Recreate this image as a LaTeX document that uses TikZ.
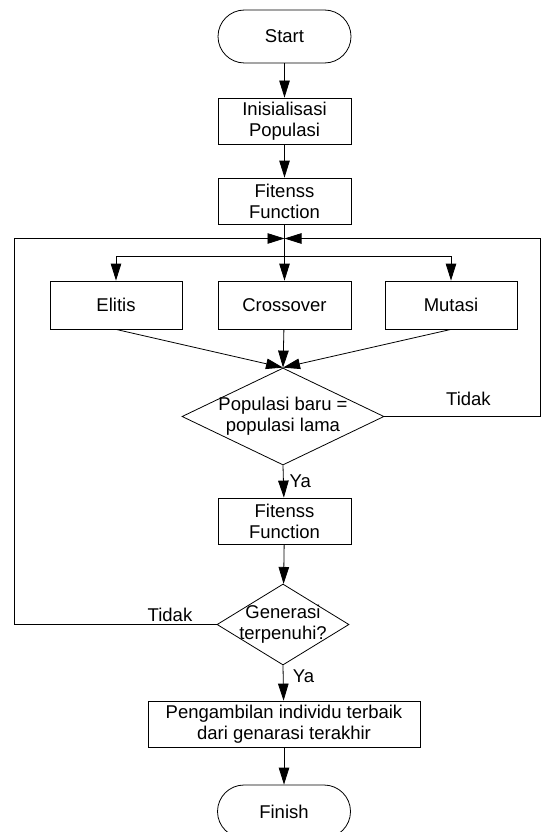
\documentclass[tikz,border=0pt]{standalone}
\usepackage{fontspec}
\setmainfont{Liberation Sans}
\usetikzlibrary{arrows.meta,shapes.geometric}

\begin{document}
\begin{tikzpicture}[x=1pt, y=-1pt, line width=0.8pt,
    font=\fontsize{18.5}{21}\selectfont,
    >={Triangle[length=17pt,width=10.5pt]},
    process/.style={draw, minimum width=133pt, minimum height=46pt, inner sep=0pt, align=center},
    terminal/.style={draw, rounded corners=26.5pt, minimum width=133pt, minimum height=53pt},
    decision/.style={draw, diamond, inner sep=0pt}]
  \useasboundingbox (0,0) rectangle (541,832);

  \node[terminal] (start) at (284.5,36.5) {Start};
  \node[process] (init) at (284.5,121) {Inisialisasi\\Populasi};
  \node[process] (fit1) at (284.5,201) {Fitenss\\Function};
  \node[process, minimum width=132pt, minimum height=48pt] (elitis) at (116,305) {Elitis};
  \node[process, minimum height=48pt] (cross) at (284.5,305) {Crossover};
  \node[process, minimum width=132pt, minimum height=48pt] (mutasi) at (451,305) {Mutasi};
  \node[decision, minimum width=202pt, minimum height=97pt,
        label={[align=center]center:Populasi baru =\\populasi lama}] (dec1) at (283,416.5) {};
  \node[process] (fit2) at (284.5,521) {Fitenss\\Function};
  \node[decision, minimum width=132pt, minimum height=81pt,
        label={[align=center]center:Generasi\\terpenuhi?}] (dec2) at (283,624.5) {};
  \node[process, minimum width=272pt] (pick) at (284,724) {Pengambilan individu terbaik\\dari genarasi terakhir};
  \node[terminal] (finish) at (284,811.5) {Finish};

  \coordinate (join) at (284.5,238.5);
  \coordinate (split) at (284.5,256);
  \coordinate (rloop) at (540,238.5);
  \coordinate (lloop) at (14,238.5);

  \draw[->] (start) -- (init);
  \draw[->] (init) -- (fit1);
  \draw[->] (fit1) -- (cross);
  \draw[->] (split) -| (elitis.north);
  \draw[->] (split) -| (mutasi.north);
  \draw[->] (elitis.south) -- (dec1.north);
  \draw[->] (cross) -- (dec1.north);
  \draw[->] (mutasi.south) -- (dec1.north);
  \draw[->] (dec1.east) -| node[pos=.27, above=7pt] {Tidak} (rloop) -- (join);
  \draw[->] (dec1.south) -- node[right=2.5pt] {Ya} (fit2);
  \draw[->] (fit2) -- (dec2);
  \draw[->] (dec2.west) -| node[pos=.115, above=-1pt] {Tidak} (lloop) -- (join);
  \draw[->] (dec2.south) -- node[pos=.3, right=6pt] {Ya} (pick);
  \draw[->] (pick) -- (finish);
\end{tikzpicture}
\end{document}
